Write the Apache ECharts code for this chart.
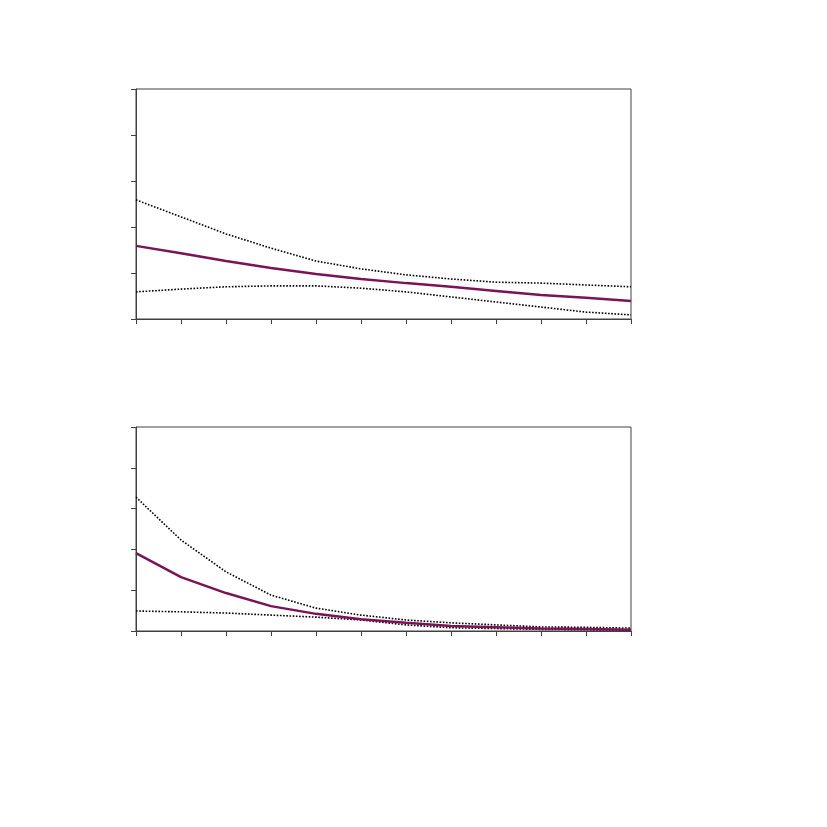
<!DOCTYPE html>
<html>
<head>
<meta charset="utf-8">
<script src="https://cdn.jsdelivr.net/npm/echarts@6/dist/echarts.min.js"></script>
<style>
html,body{margin:0;padding:0;background:#fff;}
#chart{width:827px;height:827px;}
</style>
</head>
<body>
<div id="chart"></div>
<script>
// Horizon categories (no labels shown in the reference)
const categories = ['0','1','2','3','4','5','6','7','8','9','10','11'];

// Top panel
const topUpper  = [2.59, 2.22, 1.85, 1.54, 1.26, 1.09, 0.96, 0.87, 0.80, 0.78, 0.74, 0.70];
const topMid    = [1.59, 1.43, 1.26, 1.11, 0.98, 0.87, 0.78, 0.70, 0.61, 0.52, 0.46, 0.39];
const topLower  = [0.59, 0.65, 0.70, 0.72, 0.72, 0.67, 0.59, 0.48, 0.37, 0.26, 0.15, 0.09];

// Bottom panel
const botUpper  = [3.28, 2.23, 1.45, 0.88, 0.56, 0.39, 0.27, 0.20, 0.15, 0.10, 0.09, 0.07];
const botMid    = [1.91, 1.32, 0.93, 0.61, 0.42, 0.29, 0.20, 0.12, 0.09, 0.06, 0.05, 0.03];
const botLower  = [0.49, 0.47, 0.44, 0.39, 0.34, 0.27, 0.15, 0.08, 0.06, 0.04, 0.03, 0.02];

const axisColor = '#404040';
const midColor = '#7a1357';

function xAxis(gi){
  return {
    type:'category', gridIndex:gi, data:categories, boundaryGap:false,
    axisLine:{show:true, lineStyle:{color:axisColor, width:1}},
    axisTick:{show:true, inside:false, length:5, alignWithLabel:false, interval:0, lineStyle:{color:axisColor}},
    axisLabel:{show:false},
    splitLine:{show:false}
  };
}
function yAxis(gi){
  return {
    type:'value', gridIndex:gi, min:0, max:5, interval:1,
    axisLine:{show:true, lineStyle:{color:axisColor, width:1}},
    axisTick:{show:true, inside:false, length:5, lineStyle:{color:axisColor}},
    axisLabel:{show:false},
    splitLine:{show:false}
  };
}
function dotted(data, gi){
  return {type:'line', xAxisIndex:gi, yAxisIndex:gi, data:data, symbol:'none', smooth:false,
    lineStyle:{color:'#000', width:1.6, type:[1.6,1.6]}, z:2};
}
function solid(data, gi){
  return {type:'line', xAxisIndex:gi, yAxisIndex:gi, data:data, symbol:'none', smooth:false,
    lineStyle:{color:midColor, width:2.5}, z:3};
}

const chart = echarts.init(document.getElementById('chart'), null, {renderer:'canvas'});
chart.setOption({
  animation:false,
  backgroundColor:'#fff',
  grid:[
    {left:136, top:89, width:495, height:230, show:true, borderColor:axisColor, borderWidth:1, backgroundColor:'transparent'},
    {left:136, top:427, width:495, height:204, show:true, borderColor:axisColor, borderWidth:1, backgroundColor:'transparent'}
  ],
  xAxis:[xAxis(0), xAxis(1)],
  yAxis:[yAxis(0), yAxis(1)],
  series:[
    dotted(topUpper,0), dotted(topLower,0), solid(topMid,0),
    dotted(botUpper,1), dotted(botLower,1), solid(botMid,1)
  ]
});
</script>
</body>
</html>
